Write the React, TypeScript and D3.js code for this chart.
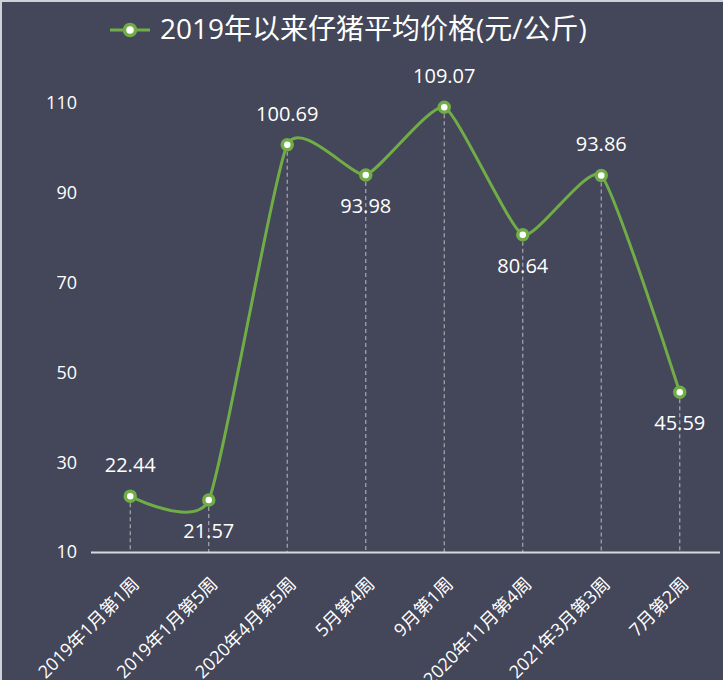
import React from "react";
import * as d3 from "d3";

const categories = ["2019年1月第1周", "2019年1月第5周", "2020年4月第5周", "5月第4周", "9月第1周", "2020年11月第4周", "2021年3月第3周", "7月第2周"];
const values = [22.44, 21.57, 100.69, 93.98, 109.07, 80.64, 93.86, 45.59];
const labelAbove = [true, false, true, false, true, false, true, false];
const yTicks = [10, 30, 50, 70, 90, 110];
const title = "2019年以来仔猪平均价格(元/公斤)";

const W = 723, H = 680;
const FONT = "'Open Sans', 'Noto Sans CJK SC', sans-serif";
const GREEN = "#70ad47";

export default function App() {
  const x = d3.scaleBand<string>().domain(categories).range([91, 719]);
  const y = d3.scaleLinear().domain([10, 110]).range([552, 103]);
  const cx = (c: string) => (x(c) as number) + x.bandwidth() / 2;
  const line = d3.line<number>()
    .x((_, i) => cx(categories[i]))
    .y((d) => y(d))
    .curve(d3.curveCardinal.tension(0.5));
  return (
    <svg width={W} height={H} style={{ position: "absolute", left: 0, top: 0, fontFamily: FONT }}>
      <rect x={0} y={0} width={W} height={H} fill="#444659" />
      <rect x={0} y={0} width={W} height={2} fill="#d0d0d8" />
      <rect x={0} y={0} width={2} height={H} fill="#d0d0d8" />
      {/* legend / title */}
      <line x1={110} x2={150} y1={30} y2={30} stroke={GREEN} strokeWidth={3} />
      <circle cx={130} cy={30} r={5.5} fill="#fff" stroke={GREEN} strokeWidth={3.5} />
      <text x={160} y={39} fill="#fff" fontSize={28}>{title}</text>
      {/* y tick labels */}
      {yTicks.map((t) => (
        <text key={t} x={77} y={y(t)} dy="0.35em" textAnchor="end" fill="#fff" fontSize={18}>{t}</text>
      ))}
      {/* drop lines */}
      {values.map((v, i) => (
        <line key={i} x1={cx(categories[i])} x2={cx(categories[i])} y1={y(v)} y2={552}
          stroke="#a8a8b0" strokeWidth={1.2} strokeDasharray="4,3" />
      ))}
      {/* x axis */}
      <line x1={91} x2={720} y1={552.5} y2={552.5} stroke="#d9d9d9" strokeWidth={2} />
      {/* x labels */}
      {categories.map((c) => (
        <text key={c} transform={`translate(${cx(c) + 10},${585}) rotate(-45)`} textAnchor="end"
          fill="#fff" fontSize={18}>{c}</text>
      ))}
      {/* line */}
      <path d={line(values) as string} fill="none" stroke={GREEN} strokeWidth={3} />
      {values.map((v, i) => (
        <circle key={i} cx={cx(categories[i])} cy={y(v)} r={5} fill="#fff" stroke={GREEN} strokeWidth={3.5} />
      ))}
      {/* value labels */}
      {values.map((v, i) => (
        <text key={i} x={cx(categories[i])} y={y(v) + (labelAbove[i] ? -31 : 31)} dy="0.35em"
          textAnchor="middle" fill="#fff" fontSize={20}>{v.toFixed(2)}</text>
      ))}
    </svg>
  );
}
